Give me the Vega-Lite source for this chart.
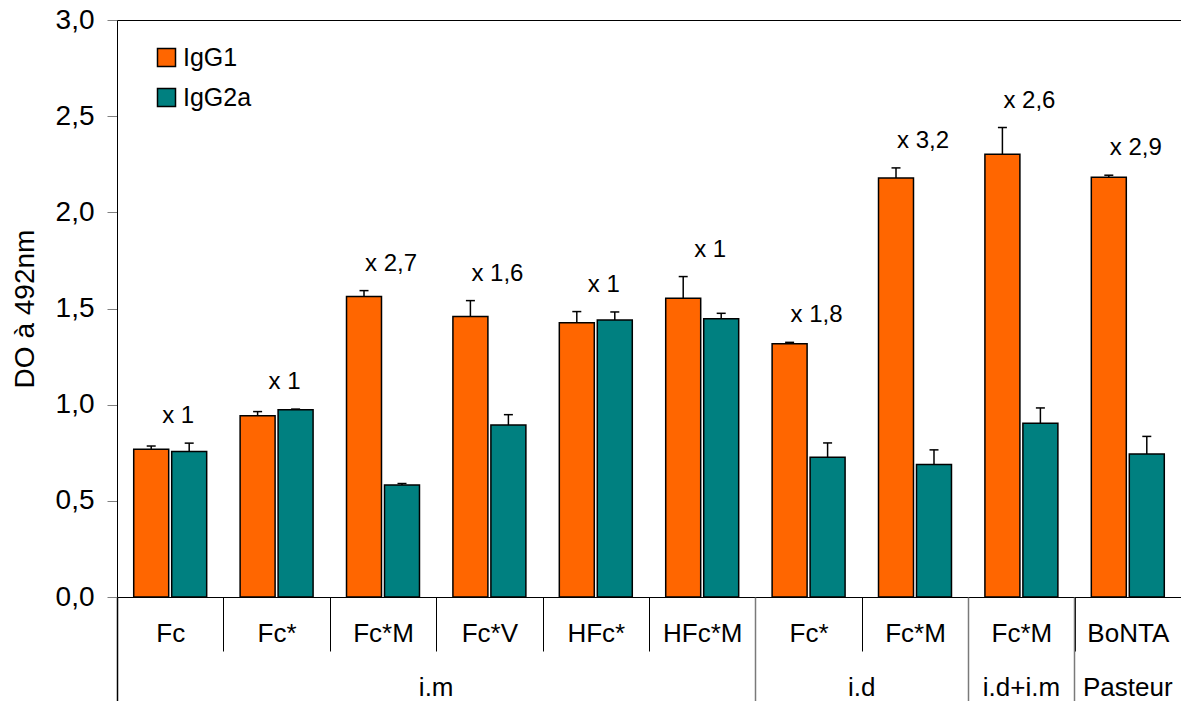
{
  "$schema": "https://vega.github.io/schema/vega-lite/v6.json",
  "width": 1064,
  "height": 577,
  "autosize": {"type": "none"},
  "padding": {"left": 117, "top": 20, "right": 0, "bottom": 104},
  "background": "white",
  "config": {
    "font": "Liberation Sans",
    "view": {"stroke": "black", "strokeWidth": 1},
    "axis": {"grid": false, "labelColor": "black", "titleColor": "black", "titleFontWeight": "normal"}
  },
  "data": {
    "values": [
      {"cat": "i.m|Fc", "series": "IgG1", "value": 0.768, "hi": 0.785, "ratio": "x 1"},
      {"cat": "i.m|Fc", "series": "IgG2a", "value": 0.756, "hi": 0.800, "ratio": "x 1"},
      {"cat": "i.m|Fc*", "series": "IgG1", "value": 0.943, "hi": 0.964, "ratio": "x 1"},
      {"cat": "i.m|Fc*", "series": "IgG2a", "value": 0.974, "hi": 0.977, "ratio": "x 1"},
      {"cat": "i.m|Fc*M", "series": "IgG1", "value": 1.562, "hi": 1.593, "ratio": "x 2,7"},
      {"cat": "i.m|Fc*M", "series": "IgG2a", "value": 0.582, "hi": 0.590, "ratio": "x 2,7"},
      {"cat": "i.m|Fc*V", "series": "IgG1", "value": 1.458, "hi": 1.541, "ratio": "x 1,6"},
      {"cat": "i.m|Fc*V", "series": "IgG2a", "value": 0.894, "hi": 0.948, "ratio": "x 1,6"},
      {"cat": "i.m|HFc*", "series": "IgG1", "value": 1.426, "hi": 1.484, "ratio": "x 1"},
      {"cat": "i.m|HFc*", "series": "IgG2a", "value": 1.440, "hi": 1.482, "ratio": "x 1"},
      {"cat": "i.m|HFc*M", "series": "IgG1", "value": 1.553, "hi": 1.666, "ratio": "x 1"},
      {"cat": "i.m|HFc*M", "series": "IgG2a", "value": 1.447, "hi": 1.475, "ratio": "x 1"},
      {"cat": "i.d|Fc*", "series": "IgG1", "value": 1.317, "hi": 1.324, "ratio": "x 1,8"},
      {"cat": "i.d|Fc*", "series": "IgG2a", "value": 0.726, "hi": 0.801, "ratio": "x 1,8"},
      {"cat": "i.d|Fc*M", "series": "IgG1", "value": 2.179, "hi": 2.231, "ratio": "x 3,2"},
      {"cat": "i.d|Fc*M", "series": "IgG2a", "value": 0.689, "hi": 0.765, "ratio": "x 3,2"},
      {"cat": "i.d+i.m|Fc*M", "series": "IgG1", "value": 2.302, "hi": 2.441, "ratio": "x 2,6"},
      {"cat": "i.d+i.m|Fc*M", "series": "IgG2a", "value": 0.904, "hi": 0.983, "ratio": "x 2,6"},
      {"cat": "Pasteur|BoNTA", "series": "IgG1", "value": 2.183, "hi": 2.193, "ratio": "x 2,9"},
      {"cat": "Pasteur|BoNTA", "series": "IgG2a", "value": 0.744, "hi": 0.835, "ratio": "x 2,9"}
    ]
  },
  "resolve": {"axis": {"x": "independent", "y": "independent"}},
  "layer": [
    {
      "mark": {"type": "bar", "stroke": "black", "strokeWidth": 1.5},
      "encoding": {
        "x": {
          "field": "cat", "type": "nominal",
          "scale": {
            "domain": ["i.m|Fc", "i.m|Fc*", "i.m|Fc*M", "i.m|Fc*V", "i.m|HFc*", "i.m|HFc*M", "i.d|Fc*", "i.d|Fc*M", "i.d+i.m|Fc*M", "Pasteur|BoNTA"],
            "paddingInner": 0, "paddingOuter": 0
          },
          "axis": {
            "title": null, "orient": "bottom", "labelAngle": 0,
            "labelExpr": "split(datum.value, '|')[1]",
            "labelFontSize": 26, "labelPadding": -31,
            "tickBand": "extent", "tickSize": 54, "tickColor": "black", "tickWidth": 1,
            "domainColor": "black", "domainWidth": 1
          }
        },
        "xOffset": {"field": "series", "type": "nominal", "scale": {"paddingInner": 0.079, "paddingOuter": 0.44}},
        "y": {
          "field": "value", "type": "quantitative",
          "scale": {"domain": [0, 3], "nice": false},
          "axis": {
            "title": "DO à 492nm", "titleFontSize": 28, "titleX": -78,
            "values": [0, 0.5, 1, 1.5, 2, 2.5, 3],
            "labelExpr": "replace(format(datum.value, '.1f'), '.', ',')",
            "labelFontSize": 28, "labelPadding": 13,
            "tickSize": 10, "tickColor": "#808080", "tickWidth": 1,
            "domainColor": "black", "domainWidth": 1
          }
        },
        "color": {
          "field": "series", "type": "nominal",
          "scale": {"domain": ["IgG1", "IgG2a"], "range": ["#FF6600", "#008080"]},
          "legend": {
            "title": null, "orient": "none", "legendX": 37, "legendY": 25,
            "symbolType": "square", "symbolSize": 324, "symbolStrokeColor": "black", "symbolStrokeWidth": 1.5,
            "symbolOpacity": 1,
            "labelFontSize": 25, "labelOffset": 4, "rowPadding": 14, "padding": 0
          }
        }
      }
    },
    {
      "mark": {"type": "rule", "color": "black", "strokeWidth": 1.5},
      "encoding": {
        "x": {"field": "cat", "type": "nominal", "axis": null},
        "xOffset": {"field": "series", "type": "nominal"},
        "y": {"field": "value", "type": "quantitative", "axis": null},
        "y2": {"field": "hi"}
      }
    },
    {
      "mark": {"type": "tick", "color": "black", "size": 9, "thickness": 1.5, "opacity": 1},
      "encoding": {
        "x": {"field": "cat", "type": "nominal", "axis": null},
        "xOffset": {"field": "series", "type": "nominal"},
        "y": {"field": "hi", "type": "quantitative", "axis": null}
      }
    },
    {
      "mark": {"type": "text", "fontSize": 24, "color": "black", "align": "center", "baseline": "alphabetic", "dx": 8, "dy": -20},
      "encoding": {
        "x": {
          "field": "cat", "type": "nominal",
          "axis": {
            "title": null, "orient": "bottom", "labelAngle": 0, "bandPosition": 0,
            "domain": false,
            "tickSize": 104, "tickWidth": 1.5,
            "tickColor": {"condition": {"test": "datum.value == 'i.m|Fc'", "value": "black"}, "value": "#7a7a7a"},
            "tickOpacity": {"condition": {"test": "indexof(['i.m|Fc', 'i.d|Fc*', 'i.d+i.m|Fc*M', 'Pasteur|BoNTA'], datum.value) >= 0", "value": 1}, "value": 0},
            "labelExpr": "datum.value == 'i.m|Fc*M' ? 'i.m' : datum.value == 'i.d|Fc*' ? 'i.d' : datum.value == 'i.d+i.m|Fc*M' ? 'i.d+i.m' : datum.value == 'Pasteur|BoNTA' ? 'Pasteur' : ''",
            "labelOffset": {"condition": {"test": "datum.value == 'i.m|Fc*M' || datum.value == 'i.d|Fc*'", "value": 53.2}, "value": 0},
            "labelFontSize": 26, "labelPadding": -27
          }
        },
        "y": {"aggregate": "max", "field": "hi", "type": "quantitative", "axis": null},
        "text": {"field": "ratio", "type": "nominal"}
      }
    }
  ]
}
